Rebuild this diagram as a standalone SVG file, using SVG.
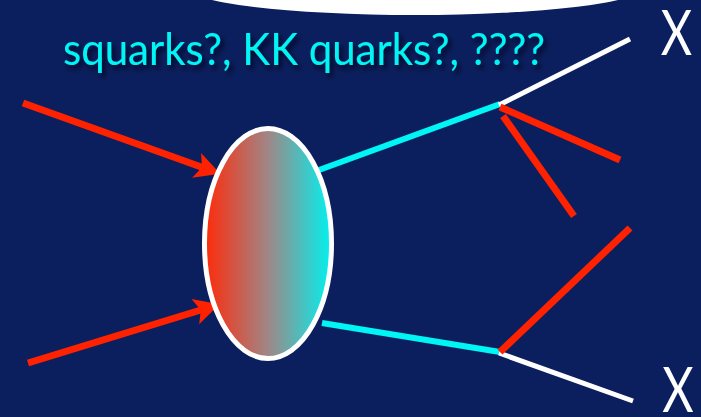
<svg xmlns="http://www.w3.org/2000/svg" width="701" height="417" viewBox="0 0 701 417">
  <defs>
    <linearGradient id="blobGrad" x1="0" y1="0" x2="1" y2="0">
      <stop offset="0" stop-color="#FF2A0A"/>
      <stop offset="0.5" stop-color="#A08686"/>
      <stop offset="1" stop-color="#00F2F0"/>
    </linearGradient>
    <filter id="shadow" x="-10%" y="-30%" width="120%" height="160%">
      <feGaussianBlur in="SourceAlpha" stdDeviation="2.5"/>
      <feOffset dx="3" dy="4" result="b"/>
      <feFlood flood-color="#000018" flood-opacity="0.85"/>
      <feComposite in2="b" operator="in"/>
      <feMerge><feMergeNode/><feMergeNode in="SourceGraphic"/></feMerge>
    </filter>
    <marker id="arrow" markerUnits="userSpaceOnUse" markerWidth="40" markerHeight="40" refX="0" refY="0" viewBox="-10 -15 35 30" orient="auto" overflow="visible">
      <path d="M-5,-11.5 L17,0 L-5,11.5 L0,0 Z" fill="#FF2200"/>
    </marker>
    <style>
      .red { stroke: #FF2200; stroke-width: 7; fill: none; }
      .cyan { stroke: #00F5F5; stroke-width: 6; fill: none; }
      .white { stroke: #FFFFFF; stroke-width: 5; fill: none; }
      .xlabel { font-family: Lato, "Open Sans", sans-serif; font-weight: 400; font-size: 62px; fill: #FFFFFF; }
      .title { font-family: Lato, "Open Sans", sans-serif; font-size: 44px; fill: #00F5F5; }
    </style>
  </defs>
  <rect x="0" y="0" width="701" height="417" fill="#0B1F5E"/>
  <ellipse cx="415" cy="-13.3" rx="230" ry="28.3" fill="#FFFFFF"/>

  <g id="connectors">
    <line class="red" x1="23" y1="103" x2="202" y2="167.3" marker-end="url(#arrow)"/>
    <line class="red" x1="28" y1="363" x2="200.8" y2="310" marker-end="url(#arrow)"/>
    <line class="cyan" x1="319" y1="170" x2="500" y2="104"/>
    <line class="cyan" x1="322" y1="323" x2="500" y2="352"/>
    <line class="white" x1="499" y1="105" x2="630" y2="39"/>
    <line class="white" x1="499" y1="353" x2="633" y2="401"/>
    <line class="red" x1="500" y1="107" x2="620" y2="160"/>
    <line class="red" x1="503" y1="116" x2="574" y2="216"/>
    <line class="red" x1="500" y1="352" x2="630" y2="228"/>
  </g>

  <g id="blob">
    <ellipse cx="268" cy="243.5" rx="63.5" ry="115" fill="url(#blobGrad)" stroke="#FFFFFF" stroke-width="5"/>
  </g>

  <g id="title">
    <text class="title" x="63" y="65" textLength="482" lengthAdjust="spacingAndGlyphs" filter="url(#shadow)">squarks?, KK quarks?, ????</text>
  </g>

  <g id="x-top">
    <text class="xlabel" transform="translate(676.5,55) scale(0.78,1)" text-anchor="middle">X</text>
  </g>
  <g id="x-bottom">
    <text class="xlabel" transform="translate(678,412) scale(0.78,1)" text-anchor="middle">X</text>
  </g>
</svg>
